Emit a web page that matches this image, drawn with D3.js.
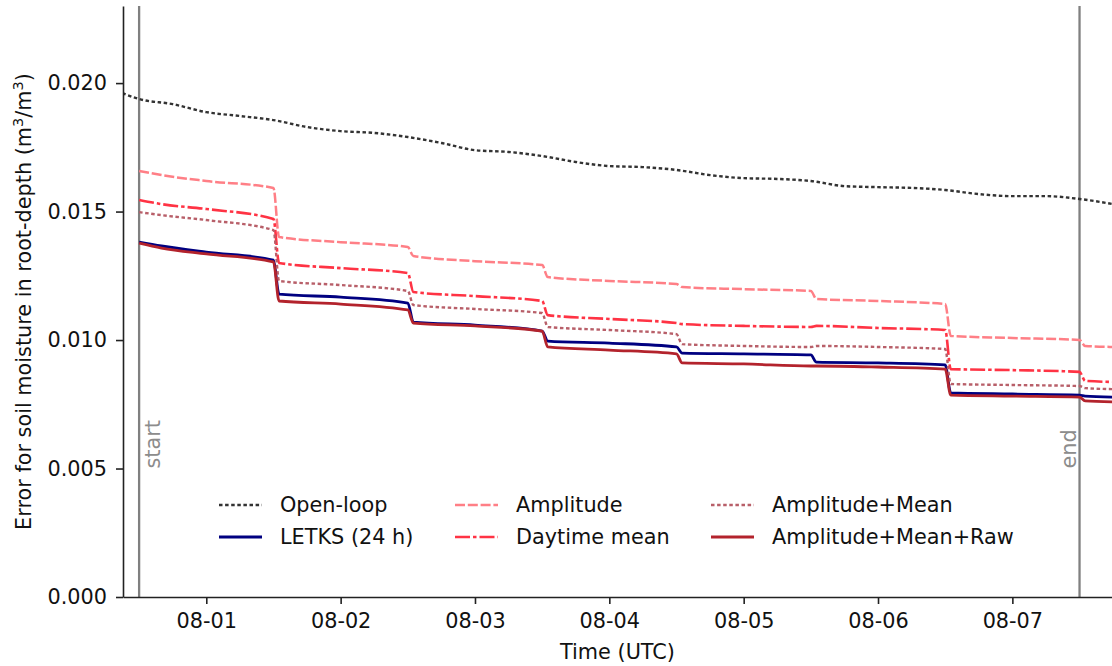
<!DOCTYPE html>
<html>
<head>
<meta charset="utf-8">
<script src="https://cdn.jsdelivr.net/npm/d3@7"></script>
<style>
  body { margin: 0; background: #fff; }
  svg text { font-family: "DejaVu Sans", sans-serif; }
</style>
</head>
<body>
<svg id="chart" width="1112" height="666"></svg>
<script>
// hours after 07-31 00:00 UTC
const hoursOpenLoop = [9, 12, 18, 24, 30, 36, 42, 48, 54, 60, 66, 72, 78, 84, 90, 96, 102, 108, 114, 120, 126, 132, 138, 144, 150, 156, 162, 168, 174, 180, 186];
const hoursDA = [12, 16, 24, 36, 37, 48, 60, 61, 72, 84, 85, 96, 108, 109, 120, 132, 133, 144, 156, 157, 168, 180, 181, 186];

const openLoop = [0.01961, 0.01938, 0.01918, 0.01887, 0.01872, 0.01856, 0.01829, 0.01813, 0.01806, 0.01790, 0.01767, 0.01739, 0.01732, 0.01716, 0.01693, 0.01677, 0.01673, 0.01662, 0.01642, 0.01630, 0.01627, 0.01619, 0.01599, 0.01595, 0.01592, 0.01584, 0.01568, 0.01560, 0.01560, 0.01549, 0.01529];
const letks = [0.01381, 0.01366, 0.01342, 0.01311, 0.01179, 0.01167, 0.01144, 0.01070, 0.01058, 0.01035, 0.00996, 0.00988, 0.00973, 0.00949, 0.00946, 0.00942, 0.00914, 0.00911, 0.00903, 0.00794, 0.00790, 0.00786, 0.00782, 0.00778];
const amplitude = [0.01658, 0.01642, 0.01619, 0.01592, 0.01401, 0.01381, 0.01362, 0.01327, 0.01307, 0.01292, 0.01245, 0.01230, 0.01218, 0.01206, 0.01198, 0.01191, 0.01160, 0.01152, 0.01140, 0.01016, 0.01008, 0.01000, 0.00977, 0.00973];
const daytimeMean = [0.01545, 0.01529, 0.01510, 0.01471, 0.01300, 0.01280, 0.01261, 0.01187, 0.01171, 0.01152, 0.01097, 0.01082, 0.01066, 0.01062, 0.01055, 0.01051, 0.01055, 0.01047, 0.01039, 0.00887, 0.00883, 0.00876, 0.00841, 0.00837];
const ampMean = [0.01498, 0.01486, 0.01467, 0.01428, 0.01230, 0.01214, 0.01191, 0.01136, 0.01121, 0.01105, 0.01051, 0.01039, 0.01023, 0.00984, 0.00977, 0.00973, 0.00977, 0.00973, 0.00965, 0.00829, 0.00825, 0.00821, 0.00813, 0.00809];
const ampMeanRaw = [0.01377, 0.01358, 0.01335, 0.01304, 0.01152, 0.01140, 0.01117, 0.01066, 0.01055, 0.01035, 0.00973, 0.00961, 0.00946, 0.00911, 0.00907, 0.00899, 0.00899, 0.00895, 0.00887, 0.00786, 0.00782, 0.00778, 0.00763, 0.00759];

const seriesNames = ['Open-loop', 'LETKS (24 h)', 'Amplitude', 'Daytime mean', 'Amplitude+Mean', 'Amplitude+Mean+Raw'];
const seriesHours = [hoursOpenLoop, hoursDA, hoursDA, hoursDA, hoursDA, hoursDA];
const seriesValues = [openLoop, letks, amplitude, daytimeMean, ampMean, ampMeanRaw];
const seriesColors = ['#333333', '#000080', '#ff7f86', '#ff3344', '#b85f69', '#b3232c'];
const seriesDash = ['3.5,2.6', null, '10,2.8', '15,3,3.5,3', '3.5,2.6', null];
const seriesWidth = [2.4, 2.8, 2.5, 2.6, 2.4, 2.8];

const yTicks = [0, 0.005, 0.010, 0.015, 0.020];
const markerHours = [12, 180];   // start / end of the DA window
const markerLabels = ['start', 'end'];

const fontSize = 20.8;
const t0 = Date.UTC(2019, 6, 31);
const toDate = h => new Date(t0 + h * 3600e3);

const margin = { left: 123, right: 1112, top: 6, bottom: 597 };
const svg = d3.select('#chart');

const x = d3.scaleUtc()
    .domain([toDate(9.12), toDate(185.8)])
    .range([margin.left, margin.right]);
const y = d3.scaleLinear()
    .domain([0, 0.023])
    .range([margin.bottom, margin.top]);

svg.append('defs').append('clipPath')
    .attr('id', 'clip')
    .append('rect')
    .attr('x', margin.left)
    .attr('y', margin.top)
    .attr('width', margin.right - margin.left)
    .attr('height', margin.bottom - margin.top);

const plot = svg.append('g').attr('clip-path', 'url(#clip)');

// start / end vertical lines
markerHours.forEach((h, i) => {
    plot.append('line')
        .attr('x1', x(toDate(h))).attr('x2', x(toDate(h)))
        .attr('y1', margin.top).attr('y2', margin.bottom)
        .attr('stroke', '#808080')
        .attr('stroke-width', 2.3);
    const tx = i === 0 ? x(toDate(h)) + 21 : x(toDate(h)) - 4;
    svg.append('text')
        .attr('transform', `translate(${tx},${y(0.005)}) rotate(-90)`)
        .attr('fill', '#8c8c8c')
        .attr('font-size', fontSize)
        .text(markerLabels[i]);
});

const line = d3.line()
    .x(d => x(d.t))
    .y(d => y(d.v))
    .curve(d3.curveMonotoneX);

seriesNames.forEach((name, i) => {
    const pts = seriesHours[i].map((h, j) => ({ t: toDate(h), v: seriesValues[i][j] }));
    plot.append('path')
        .datum(pts)
        .attr('d', line)
        .attr('fill', 'none')
        .attr('stroke', seriesColors[i])
        .attr('stroke-width', seriesWidth[i])
        .attr('stroke-dasharray', seriesDash[i]);
});

// axes
const xAxis = d3.axisBottom(x)
    .ticks(d3.utcDay.every(1))
    .tickFormat(d3.utcFormat('%m-%d'))
    .tickSize(7)
    .tickPadding(9)
    .tickSizeOuter(0);
const gx = svg.append('g')
    .attr('transform', `translate(0,${margin.bottom})`)
    .call(xAxis);

const yAxis = d3.axisLeft(y)
    .tickValues(yTicks)
    .tickFormat(d3.format('.3f'))
    .tickSize(7)
    .tickPadding(9)
    .tickSizeOuter(0);
const gy = svg.append('g')
    .attr('transform', `translate(${margin.left},0)`)
    .call(yAxis);

[gx, gy].forEach(g => {
    g.select('.domain').attr('stroke', '#222').attr('stroke-width', 1.6);
    g.selectAll('.tick line').attr('stroke', '#222').attr('stroke-width', 1.6);
    g.selectAll('.tick text')
        .attr('font-size', fontSize)
        .attr('fill', '#111')
        .style('font-family', '"DejaVu Sans", sans-serif');
});

svg.append('text')
    .attr('x', (margin.left + margin.right) / 2)
    .attr('y', 659)
    .attr('text-anchor', 'middle')
    .attr('font-size', fontSize)
    .attr('fill', '#111')
    .text('Time (UTC)');

const ylab = svg.append('text')
    .attr('transform', `translate(31,${(margin.top + margin.bottom) / 2}) rotate(-90)`)
    .attr('text-anchor', 'middle')
    .attr('font-size', fontSize)
    .attr('fill', '#111');
ylab.append('tspan').text('Error for soil moisture in root-depth (m');
ylab.append('tspan').attr('dy', -8).attr('font-size', 14.5).text('3');
ylab.append('tspan').attr('dy', 8).text('/m');
ylab.append('tspan').attr('dy', -8).attr('font-size', 14.5).text('3');
ylab.append('tspan').attr('dy', 8).text(')');

// legend, 3 columns x 2 rows, no frame
const legendCols = [219, 455, 711];
const legendRows = [505, 537];
seriesNames.forEach((name, i) => {
    const cx = legendCols[Math.floor(i / 2)];
    const cy = legendRows[i % 2];
    const g = svg.append('g');
    g.append('line')
        .attr('x1', cx).attr('x2', cx + 43)
        .attr('y1', cy).attr('y2', cy)
        .attr('stroke', seriesColors[i])
        .attr('stroke-width', seriesWidth[i])
        .attr('stroke-dasharray', seriesDash[i]);
    g.append('text')
        .attr('x', cx + 61)
        .attr('y', cy)
        .attr('dy', '0.35em')
        .attr('font-size', fontSize)
        .attr('fill', '#111')
        .text(name);
});
</script>
</body>
</html>
